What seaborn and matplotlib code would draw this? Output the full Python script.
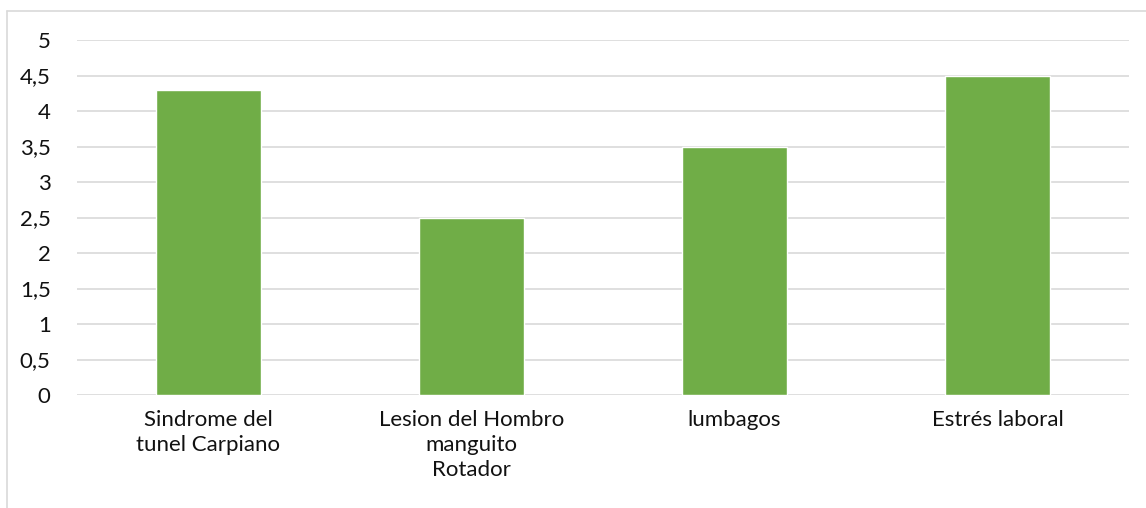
import numpy as np
import pandas as pd
import matplotlib
matplotlib.use("Agg")
import matplotlib.pyplot as plt
import seaborn as sns

# datos
categorias = ["Sindrome del\ntunel Carpiano", "Lesion del Hombro\nmanguito\nRotador",
              "lumbagos", "Estrés laboral"]
valores = [4.3, 2.5, 3.5, 4.5]
ticks_y = [0, 0.5, 1, 1.5, 2, 2.5, 3, 3.5, 4, 4.5, 5]
etiquetas_y = ["0", "0,5", "1", "1,5", "2", "2,5", "3", "3,5", "4", "4,5", "5"]

df = pd.DataFrame({"categoria": categorias, "valor": valores})

sns.set_theme(style="white")
plt.rcParams["font.family"] = ["Lato", "DejaVu Sans"]

fig = plt.figure(figsize=(11.46, 5.08), dpi=100)
ax = fig.add_axes([77 / 1146, 1 - 395 / 508, (1129 - 77) / 1146, 355 / 508])

sns.barplot(data=df, x="categoria", y="valor", color="#70AD47", width=0.4,
            saturation=1, ax=ax)

ax.set_ylim(0, 5)
ax.set_yticks(ticks_y)
ax.set_yticklabels(etiquetas_y)
ax.yaxis.grid(True, color="#D9D9D9", linewidth=1.2)
ax.set_axisbelow(True)
for s in ax.spines.values():
    s.set_visible(False)
ax.tick_params(axis="both", length=0, labelsize=16, colors="#111111")
ax.tick_params(axis="y", pad=19)
ax.tick_params(axis="x", pad=11)
for t in ax.get_xticklabels():
    t.set_linespacing(1.3)
ax.set_xlabel("")
ax.set_ylabel("")

# borde del área del gráfico
fig.add_artist(plt.Line2D([7 / 1146, 7 / 1146], [0, 1 - 11 / 508], color="#D9D9D9", lw=1.2))
fig.add_artist(plt.Line2D([7 / 1146, 1], [1 - 11 / 508, 1 - 11 / 508], color="#D9D9D9", lw=1.2))

fig.savefig("out.png", dpi=100)
